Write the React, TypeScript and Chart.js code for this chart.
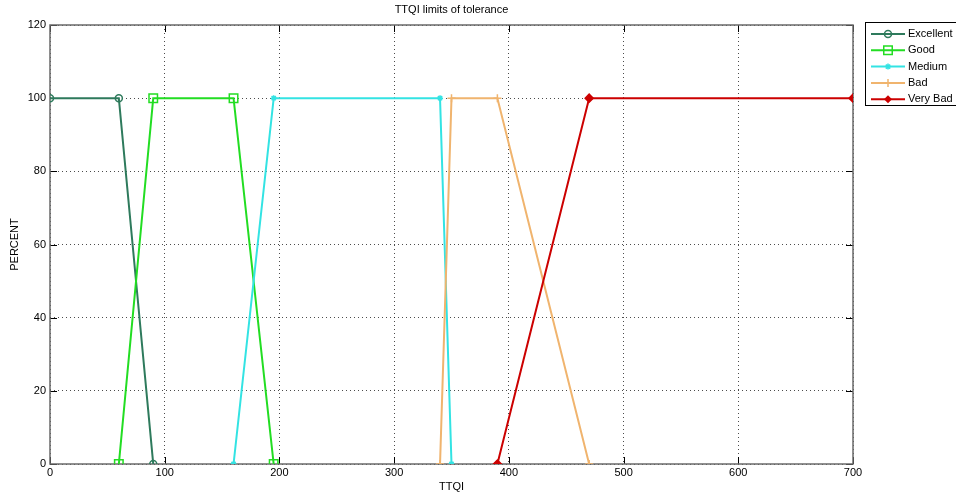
import React, { useEffect, useRef } from "react";
import { Chart, registerables } from "chart.js";

Chart.register(...registerables);

const chartTitle = "TTQI limits of tolerance";
const xAxisTitle = "TTQI";
const yAxisTitle = "PERCENT";

const seriesNames = ["Excellent", "Good", "Medium", "Bad", "Very Bad"];
const seriesColors = ["#2e7a5c", "#22dd22", "#33e3e3", "#f0b46e", "#cc0000"];

const excellentX = [0, 60, 90];
const excellentY = [100, 100, 0];
const goodX = [60, 90, 160, 195];
const goodY = [0, 100, 100, 0];
const mediumX = [160, 195, 340, 350];
const mediumY = [0, 100, 100, 0];
const badX = [340, 350, 390, 470];
const badY = [0, 100, 100, 0];
const veryBadX = [390, 470, 700];
const veryBadY = [0, 100, 100];

const xTicks = [0, 100, 200, 300, 400, 500, 600, 700];
const yTicks = [0, 20, 40, 60, 80, 100, 120];

const FONT = "Arial, 'Liberation Sans', sans-serif";

type Marker = { style: string; r: number; fill: boolean };
const markers: Marker[] = [
  { style: "circle", r: 3.5, fill: false },
  { style: "rect", r: 6, fill: false },
  { style: "star", r: 3, fill: false },
  { style: "cross", r: 4, fill: false },
  { style: "rectRot", r: 4, fill: true },
];

function drawMarker(ctx: CanvasRenderingContext2D, m: Marker, x: number, y: number, color: string) {
  ctx.save();
  ctx.strokeStyle = color;
  ctx.fillStyle = color;
  ctx.lineWidth = 1.5;
  ctx.beginPath();
  if (m.style === "circle") {
    ctx.arc(x, y, m.r, 0, Math.PI * 2);
    ctx.stroke();
  } else if (m.style === "rect") {
    const s = m.r * Math.SQRT1_2;
    ctx.rect(x - s, y - s, 2 * s, 2 * s);
    ctx.stroke();
  } else if (m.style === "star") {
    for (let a = 0; a < 4; a++) {
      const ang = (a * Math.PI) / 4;
      ctx.moveTo(x - Math.cos(ang) * m.r, y - Math.sin(ang) * m.r);
      ctx.lineTo(x + Math.cos(ang) * m.r, y + Math.sin(ang) * m.r);
    }
    ctx.stroke();
  } else if (m.style === "cross") {
    ctx.moveTo(x - m.r, y);
    ctx.lineTo(x + m.r, y);
    ctx.moveTo(x, y - m.r);
    ctx.lineTo(x, y + m.r);
    ctx.stroke();
  } else if (m.style === "rectRot") {
    ctx.moveTo(x, y - m.r);
    ctx.lineTo(x + m.r, y);
    ctx.lineTo(x, y + m.r);
    ctx.lineTo(x - m.r, y);
    ctx.closePath();
    ctx.fill();
  }
  ctx.restore();
}

const frame = {
  id: "matlabFrame",
  beforeDatasetsDraw(chart: any) {
    const { ctx, chartArea: a, scales } = chart;
    ctx.save();
    ctx.strokeStyle = "#000";
    ctx.lineWidth = 1;
    const tl = 7;
    ctx.beginPath();
    for (const v of xTicks) {
      const px = Math.round(scales.x.getPixelForValue(v)) + 0.5;
      ctx.moveTo(px, a.bottom);
      ctx.lineTo(px, a.bottom - tl);
      ctx.moveTo(px, a.top);
      ctx.lineTo(px, a.top + tl);
    }
    for (const v of yTicks) {
      const py = Math.round(scales.y.getPixelForValue(v)) + 0.5;
      ctx.moveTo(a.left, py);
      ctx.lineTo(a.left + tl, py);
      ctx.moveTo(a.right, py);
      ctx.lineTo(a.right - tl, py);
    }
    ctx.stroke();
    ctx.strokeStyle = "#6a6a6a";
    ctx.lineWidth = 1.5;
    ctx.strokeRect(a.left, a.top, a.right - a.left, a.bottom - a.top);
    ctx.restore();
  },
  afterDraw(chart: any) {
    const { ctx, chartArea: a } = chart;
    ctx.save();
    ctx.fillStyle = "#000";
    ctx.font = `11px ${FONT}`;
    ctx.textAlign = "center";
    ctx.textBaseline = "middle";
    const cx = (a.left + a.right) / 2;
    ctx.fillText(chartTitle, cx, 10);
    ctx.fillText(xAxisTitle, cx, 487);
    ctx.save();
    ctx.translate(15, (a.top + a.bottom) / 2);
    ctx.rotate(-Math.PI / 2);
    ctx.fillText(yAxisTitle, 0, 0);
    ctx.restore();

    // legend
    const lx = 865.5, ly = 22.5, lw = 100, lh = 83;
    ctx.fillStyle = "#fff";
    ctx.fillRect(lx, ly, lw, lh);
    ctx.strokeStyle = "#000";
    ctx.lineWidth = 1;
    ctx.strokeRect(lx, ly, lw, lh);
    chart.data.datasets.forEach((ds: any, i: number) => {
      const y = 34 + i * 16.3;
      ctx.strokeStyle = ds.borderColor;
      ctx.lineWidth = 2;
      ctx.beginPath();
      ctx.moveTo(871, y);
      ctx.lineTo(905, y);
      ctx.stroke();
      drawMarker(ctx, markers[i], 888, y, ds.borderColor);
      ctx.fillStyle = "#000";
      ctx.textAlign = "left";
      ctx.fillText(ds.label, 908, y);
    });
    ctx.restore();
  },
};

function toPoints(xs: number[], ys: number[]) {
  return xs.map((x, i) => ({ x, y: ys[i] }));
}

export default function App() {
  const ref = useRef<HTMLCanvasElement>(null);
  useEffect(() => {
    if (!ref.current) return;
    const xs = [excellentX, goodX, mediumX, badX, veryBadX];
    const ys = [excellentY, goodY, mediumY, badY, veryBadY];
    const datasets = seriesNames.map((name, i) => ({
      label: name,
      data: toPoints(xs[i], ys[i]),
      borderColor: seriesColors[i],
      backgroundColor: markers[i].fill ? seriesColors[i] : "rgba(0,0,0,0)",
      borderWidth: 2,
      pointStyle: markers[i].style as any,
      pointRadius: markers[i].r,
      pointBorderWidth: 1.5,
      tension: 0,
      fill: false,
      order: 5 - i,
    }));
    const chart = new Chart(ref.current, {
      type: "line",
      data: { datasets },
      options: {
        animation: false,
        responsive: false,
        maintainAspectRatio: false,
        layout: { padding: { top: 25, right: 103, left: 0, bottom: 0 }, autoPadding: false },
        plugins: { legend: { display: false }, title: { display: false }, tooltip: { enabled: false } },
        scales: {
          x: {
            type: "linear",
            min: 0,
            max: 700,
            afterFit: (s: any) => { s.height = 28; },
            afterBuildTicks: (s: any) => { s.ticks = xTicks.map((v) => ({ value: v })); },
            ticks: { color: "#000", font: { size: 11, family: FONT }, padding: 2, maxRotation: 0, autoSkip: false },
            grid: { color: "rgba(0,0,0,0.7)", drawTicks: false, tickLength: 0 },
            border: { display: false, dash: [1, 3] },
          },
          y: {
            type: "linear",
            min: 0,
            max: 120,
            afterFit: (s: any) => { s.width = 50; },
            afterBuildTicks: (s: any) => { s.ticks = yTicks.map((v) => ({ value: v })); },
            ticks: { color: "#000", font: { size: 11, family: FONT }, padding: 4, autoSkip: false },
            grid: { color: "rgba(0,0,0,0.7)", drawTicks: false, tickLength: 0 },
            border: { display: false, dash: [1, 3] },
          },
        },
      },
      plugins: [frame],
    });
    return () => chart.destroy();
  }, []);
  return (
    <div style={{ position: "fixed", left: 0, top: 0, width: 956, height: 492, background: "#fff" }}>
      <canvas ref={ref} width={956} height={492} style={{ width: 956, height: 492 }} />
    </div>
  );
}
